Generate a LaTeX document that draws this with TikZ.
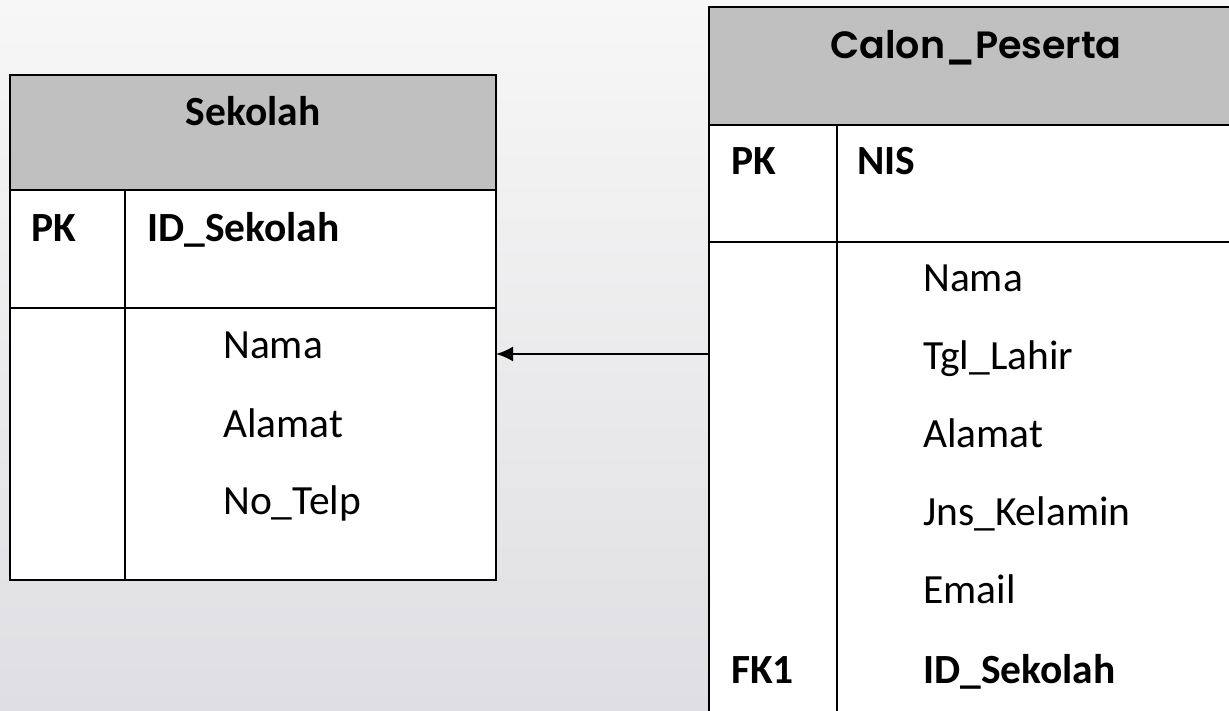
\documentclass[tikz,border=0pt]{standalone}
\usepackage{fontspec}
\setmainfont{Carlito}
\newfontfamily\gothic{Poppins SemiBold}
\usetikzlibrary{arrows.meta}
\definecolor{hdrgray}{HTML}{C0C0C0}
\definecolor{bgtop}{HTML}{F7F7F7}
\definecolor{bgbot}{HTML}{DFDEE2}
\begin{document}
\begin{tikzpicture}[x=1pt,y=-1pt,
  cell/.style={draw=black,line width=2pt,inner sep=0pt,outer sep=0pt,anchor=north west},
  hdr/.style={cell,fill=hdrgray},
  body/.style={cell,fill=white},
  txt/.style={anchor=base west,inner sep=0pt,font=\fontsize{41.5}{48}\selectfont},
  key/.style={txt,font=\fontsize{41.5}{48}\selectfont\bfseries},
  link/.style={line width=2pt,-{Latex[length=17pt,width=15pt]}}]
\useasboundingbox (0,0) rectangle (1229,711);
\clip (0,0) rectangle (1229,711);
% backdrop
\shade[top color=bgtop,bottom color=bgbot] (0,0) rectangle (1229,711);

% ---- table Sekolah ----
\node[hdr,minimum width=486pt,minimum height=115pt] (sekHead) at (10,75) {};
\node[body,minimum width=486pt,minimum height=118pt] (sekKey) at (10,190) {};
\node[body,minimum width=486pt,minimum height=272pt] (sekolah) at (10,308) {};
\draw[line width=2pt] (125,190) -- (125,580);
\node[key,anchor=base] (sekTitle) at (253,126) {Sekolah};
\node[key] (sekPK) at (31,242) {PK};
\node[key] (sekID) at (147,242) {ID\_Sekolah};
\node[txt] (sekNama) at (223,359) {Nama};
\node[txt] (sekAlamat) at (223,437) {Alamat};
\node[txt] (sekTelp) at (223,514) {No\_Telp};

% ---- table Calon_Peserta ----
\node[hdr,minimum width=534pt,minimum height=118pt] (calHead) at (709,7) {};
\node[body,minimum width=534pt,minimum height=117pt] (calKey) at (709,125) {};
\node[body,minimum width=534pt,minimum height=520pt] (calon) at (709,242) {};
\draw[line width=2pt] (837,125) -- (837,762);
\node[anchor=base,inner sep=0pt,font=\gothic\fontsize{38}{44}\selectfont] (calTitle) at (976,59) {Calon\_Peserta};
\node[key] (calPK) at (731,175) {PK};
\node[key] (calNIS) at (857,175) {NIS};
\node[txt] (calNama) at (923,292) {Nama};
\node[txt] (calLahir) at (923,370) {Tgl\_Lahir};
\node[txt] (calAlamat) at (923,447) {Alamat};
\node[txt] (calJK) at (923,525) {Jns\_Kelamin};
\node[txt] (calEmail) at (923,603) {Email};
\node[key] (calFK) at (731,683) {FK1};
\node[key] (calID) at (923,683) {ID\_Sekolah};

% ---- relation FK1 -> Sekolah ----
\coordinate (fk) at (709,354);
\draw[link] (fk) -- (sekolah.east |- fk);
\end{tikzpicture}
\end{document}
